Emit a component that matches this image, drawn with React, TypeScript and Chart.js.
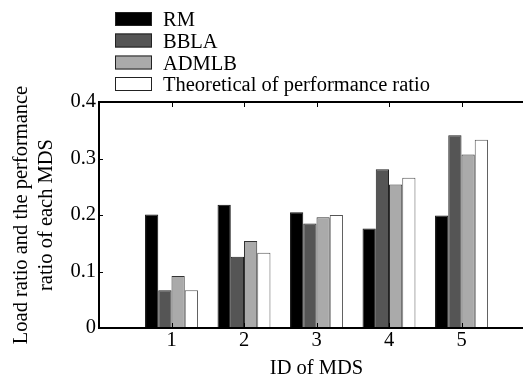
import React, { useEffect, useRef } from "react";
import { Chart, registerables } from "chart.js";

Chart.register(...registerables);

const categories = [1, 2, 3, 4, 5];
const seriesNames = ["RM", "BBLA", "ADMLB", "Theoretical of performance ratio"];
const rmValues = [0.201, 0.218, 0.205, 0.176, 0.199];
const bblaValues = [0.067, 0.126, 0.185, 0.281, 0.341];
const admlbValues = [0.092, 0.154, 0.196, 0.254, 0.307];
const theoryValues = [0.067, 0.133, 0.2, 0.266, 0.333];
const yTicks = [0, 0.1, 0.2, 0.3, 0.4];
const xTickLabels = ["1", "2", "3", "4", "5"];

const FONT = "'Liberation Serif', 'Times New Roman', serif";

const framePlugin = {
  id: "frameTicks",
  afterDraw(chart: any) {
    const { ctx, chartArea } = chart;
    const { left, right, top, bottom } = chartArea;
    const xs = chart.scales.x;
    const ys = chart.scales.y;
    ctx.save();
    ctx.strokeStyle = "#000";
    ctx.lineWidth = 1;
    ctx.beginPath();
    categories.forEach((c) => {
      const px = Math.round(xs.getPixelForValue(c)) + 0.5;
      ctx.moveTo(px, top);
      ctx.lineTo(px, top + 5);
      ctx.moveTo(px, bottom);
      ctx.lineTo(px, bottom - 5);
    });
    yTicks.forEach((v) => {
      const py = Math.round(ys.getPixelForValue(v)) + 0.5;
      ctx.moveTo(left, py);
      ctx.lineTo(left + 4, py);
      ctx.moveTo(right, py);
      ctx.lineTo(right - 4, py);
    });
    ctx.stroke();
    ctx.lineWidth = 2;
    ctx.beginPath();
    ctx.rect(left, top, right - left, bottom - top);
    ctx.stroke();

    // legend
    const boxX = 115;
    const boxW = 37;
    const boxH = 14;
    const rowY = [12, 33.5, 55.5, 77];
    ctx.font = `20.5px ${FONT}`;
    ctx.textBaseline = "alphabetic";
    ctx.textAlign = "left";
    chart.data.datasets.forEach((ds: any, i: number) => {
      const y = rowY[i];
      ctx.fillStyle = ds.backgroundColor;
      ctx.fillRect(boxX, y, boxW, boxH);
      ctx.lineWidth = 1;
      ctx.strokeStyle = "#222";
      ctx.strokeRect(boxX + 0.5, y + 0.5, boxW - 1, boxH - 1);
      ctx.fillStyle = "#000";
      ctx.fillText(ds.label, 163, y + 14);
    });
    ctx.restore();
  },
};

export default function App() {
  const ref = useRef<HTMLCanvasElement>(null);
  useEffect(() => {
    if (!ref.current) return;
    const mk = (vals: number[]) => categories.map((c, i) => ({ x: c, y: vals[i] }));
    const colors = ["#000000", "#555555", "#aaaaaa", "#ffffff"];
    const borders = ["#111111", "#222222", "#333333", "#555555"];
    const all = [rmValues, bblaValues, admlbValues, theoryValues];
    const chart = new Chart(ref.current, {
      type: "bar",
      data: {
        datasets: all.map((vals, i) => ({
          label: seriesNames[i],
          data: mk(vals),
          backgroundColor: colors[i],
          borderColor: borders[i],
          borderWidth: 1,
          borderSkipped: "bottom",
          barPercentage: 1.0,
          categoryPercentage: 0.73,
        })),
      },
      options: {
        responsive: false,
        animation: false,
        layout: { padding: { top: 102, right: 26, bottom: 0, left: 0 } },
        plugins: { legend: { display: false }, tooltip: { enabled: false } },
        scales: {
          x: {
            type: "linear",
            min: 0,
            max: 6,
            offset: false,
            grid: { display: false, drawTicks: false },
            border: { display: false },
            ticks: {
              stepSize: 1,
              autoSkip: false,
              maxRotation: 0,
              padding: 0,
              color: "#000",
              font: { family: FONT, size: 20.5 },
              callback: (v: any) => {
                const idx = categories.indexOf(Number(v));
                return idx >= 0 ? xTickLabels[idx] : "";
              },
            },
            title: {
              display: true,
              text: "ID of MDS",
              color: "#000",
              font: { family: FONT, size: 20.5, lineHeight: 1.22 },
              padding: { top: 0, bottom: 6 },
            },
            afterFit: (s: any) => {
              s.height = 59;
            },
          },
          y: {
            min: 0,
            max: 0.4,
            grid: { display: false, drawTicks: false },
            border: { display: false },
            ticks: {
              stepSize: 0.1,
              padding: 3,
              color: "#000",
              font: { family: FONT, size: 20.5 },
            },
            title: {
              display: true,
              text: ["Load ratio and the performance", "ratio of each MDS"],
              color: "#000",
              font: { family: FONT, size: 20.5, lineHeight: 1.22 },
              padding: { top: 9, bottom: 0 },
            },
            afterFit: (s: any) => {
              s.width = 99;
            },
          },
        },
      },
      plugins: [framePlugin],
    } as any);
    return () => chart.destroy();
  }, []);
  return (
    <div
      style={{
        position: "absolute",
        left: 0,
        top: 0,
        width: 523,
        height: 387,
        overflow: "hidden",
        background: "#fff",
      }}
    >
      <canvas ref={ref} width={560} height={387} style={{ width: 560, height: 387, display: "block" }} />
    </div>
  );
}
